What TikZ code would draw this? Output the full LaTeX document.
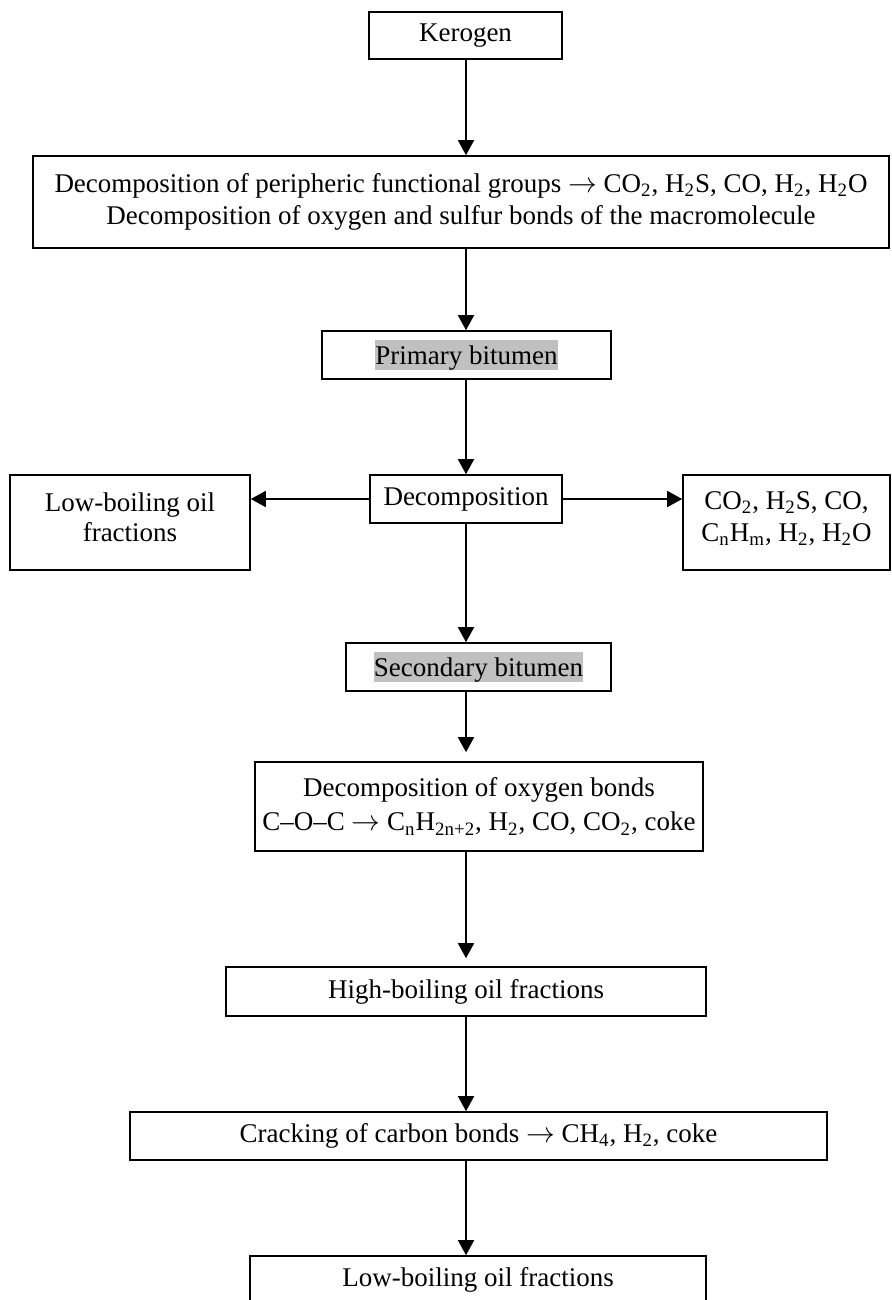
\documentclass[tikz,border=0pt]{standalone}
\usepackage{fontspec}
\setmainfont{Liberation Serif}
\usetikzlibrary{arrows.meta,calc}
\definecolor{hl}{RGB}{192,192,192}
\newcommand{\hlt}[1]{{\setlength{\fboxsep}{0pt}\colorbox{hl}{\rule[-0.216em]{0pt}{1.107em}#1}}}
\newcommand{\sub}[1]{\textsubscript{#1}}
\newcommand{\rarr}{$\rightarrow$}
\begin{document}
\begin{tikzpicture}[x=0.5pt,y=-0.5pt,
  box/.style={draw, line width=0.8pt, rectangle, align=center, inner sep=0pt,
    font=\fontsize{13.5}{15}\selectfont},
  arr/.style={line width=0.8pt, -{Triangle[width=8pt,length=7.5pt]}}]
\clip (0,0) rectangle (891,1300);
\useasboundingbox (0,0) rectangle (891,1300);
\node[box, minimum width=96.5pt, minimum height=23.5pt] (kerogen) at (465.5,35.5) {Kerogen};
\node[box, minimum width=428pt, minimum height=46pt] (big) at (461,202)
  {Decomposition of peripheric functional groups \rarr{} CO\sub{2}, H\sub{2}S, CO, H\sub{2}, H\sub{2}O\\[1pt]
   Decomposition of oxygen and sulfur bonds of the macromolecule};
\node[box, minimum width=144.5pt, minimum height=24pt] (primary) at (466.5,355) {\hlt{Primary bitumen}};
\node[box, minimum width=96pt, minimum height=24pt] (decomp) at (466,499) {Decomposition};
\node[box, minimum width=120pt, minimum height=47.5pt] (lowL) at (130,522.5) {Low-boiling oil\\fractions\\[-10pt]};
\node[box, minimum width=103.5pt, minimum height=47.5pt] (gases) at (786.5,522.5) {CO\sub{2}, H\sub{2}S, CO,\\[1pt]C\sub{n}H\sub{m}, H\sub{2}, H\sub{2}O\\[-9pt]};
\node[box, minimum width=132.5pt, minimum height=24pt] (secondary) at (478.5,667) {\hlt{Secondary bitumen}};
\node[box, minimum width=224pt, minimum height=44.5pt] (oxygen) at (479,806.5)
  {Decomposition of oxygen bonds\\[2pt]C–O–C \rarr{} C\sub{n}H\sub{2n+2}, H\sub{2}, CO, CO\sub{2}, coke};
\node[box, minimum width=240pt, minimum height=24.5pt] (high) at (466,991.5) {High-boiling oil fractions};
\node[box, minimum width=348.5pt, minimum height=24pt] (crack) at (478.5,1136) {Cracking of carbon bonds \rarr{} CH\sub{4}, H\sub{2}, coke};
\node[box, minimum width=228pt, minimum height=24pt] (lowB) at (478,1280) {Low-boiling oil fractions};

\coordinate (col) at (466,0);
\draw[arr] (kerogen.south -| col) -- (big.north -| col);
\draw[arr] (big.south -| col) -- (primary.north -| col);
\draw[arr] (primary.south -| col) -- (decomp.north -| col);
\draw[arr] (decomp.west) -- (lowL.east |- decomp.west);
\draw[arr] (decomp.east) -- (gases.west |- decomp.east);
\draw[arr] (decomp.south -| col) -- (secondary.north -| col);
\draw[arr, shorten >=4.5pt] (secondary.south -| col) -- (oxygen.north -| col);
\draw[arr, shorten >=4pt] (oxygen.south -| col) -- (high.north -| col);
\draw[arr] (high.south -| col) -- (crack.north -| col);
\draw[arr] (crack.south -| col) -- (lowB.north -| col);
\end{tikzpicture}
\end{document}
